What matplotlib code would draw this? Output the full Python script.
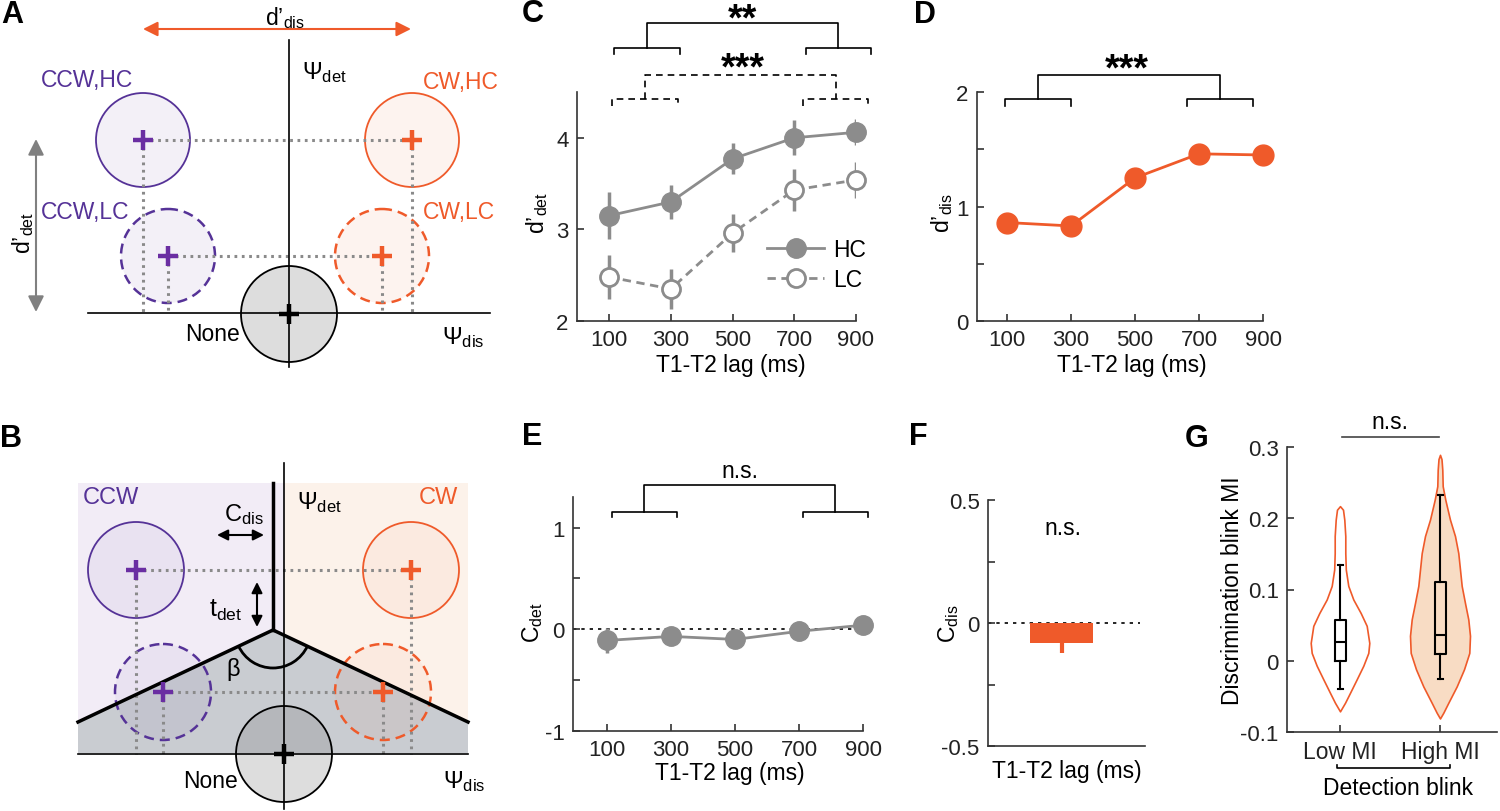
import numpy as np
import matplotlib
matplotlib.use("Agg")
import matplotlib.pyplot as plt
from matplotlib.patches import Circle, Arc, Polygon, Rectangle

plt.rcParams['font.family'] = ['Liberation Sans', 'DejaVu Sans']
plt.rcParams['mathtext.fontset'] = 'custom'
plt.rcParams['mathtext.rm'] = 'Liberation Sans'
plt.rcParams['mathtext.it'] = 'Liberation Sans:italic'
plt.rcParams['mathtext.bf'] = 'Liberation Sans:bold'

# ---------------- data ----------------
lags = [100, 300, 500, 700, 900]
dprime_det_hc = [3.15, 3.30, 3.77, 4.00, 4.06]
dprime_det_hc_err = [0.26, 0.19, 0.17, 0.19, 0.14]
dprime_det_lc = [2.48, 2.35, 2.96, 3.43, 3.54]
dprime_det_lc_err = [0.24, 0.22, 0.21, 0.23, 0.20]

dprime_dis = [0.86, 0.83, 1.25, 1.46, 1.45]
dprime_dis_err = [0.03, 0.03, 0.05, 0.03, 0.02]

c_det = [-0.11, -0.07, -0.10, -0.02, 0.04]
c_det_err = [0.12, 0.04, 0.04, 0.04, 0.03]

c_dis = -0.08
c_dis_err = 0.04

mi_groups = ['Low MI', 'High MI']
# violin outlines: level and half width
low_mi_y = [-0.071, -0.059, -0.045, -0.026, -0.007, 0.011, 0.025, 0.049, 0.067,
            0.086, 0.105, 0.128, 0.151, 0.175, 0.198, 0.212, 0.217]
low_mi_w = [0.0, 0.05, 0.10, 0.167, 0.233, 0.283, 0.293, 0.267, 0.207,
            0.133, 0.083, 0.058, 0.053, 0.053, 0.043, 0.03, 0.0]
high_mi_y = [-0.081, -0.073, -0.059, -0.036, -0.012, 0.011, 0.035, 0.058, 0.081,
             0.105, 0.128, 0.151, 0.175, 0.198, 0.226, 0.245, 0.268, 0.283, 0.289]
high_mi_w = [0.0, 0.033, 0.083, 0.167, 0.24, 0.293, 0.30, 0.283, 0.25,
             0.217, 0.20, 0.183, 0.15, 0.10, 0.053, 0.027, 0.023, 0.015, 0.0]
low_mi_box = dict(whislo=-0.039, q1=0.0, med=0.027, q3=0.057, whishi=0.135, fliers=[])
high_mi_box = dict(whislo=-0.026, q1=0.010, med=0.036, q3=0.110, whishi=0.232, fliers=[])

PURPLE = '#553297'
PURPLE_X = '#6a2ea2'
ORANGE = '#ef5a2a'
GRAY = '#8c8c8c'
DOT = '#8a8a8a'
FS = 16.5

fig = plt.figure(figsize=(15, 8.12), dpi=100)

# full-figure canvas in pixel units for the schematics and panel letters
cv = fig.add_axes([0, 0, 1, 1])
cv.set_xlim(0, 1500)
cv.set_ylim(812, 0)
cv.axis('off')

for lab, x, y in [('A', 12, 15), ('B', 11, 439), ('C', 533, 14), ('D', 925, 15),
                  ('E', 532, 437), ('F', 918, 437), ('G', 1197, 439)]:
    cv.text(x, y, lab, fontsize=22, fontweight='bold', ha='center', va='center')

dotted = dict(color=DOT, lw=2.2, ls=(0, (0.9, 1.5)), zorder=2)


def circ(x, y, col, dashed, fa, r=47):
    c = Circle((x, y), r, facecolor=(col, fa), edgecolor=col,
               lw=1.8 if dashed else 1.3, ls=(0, (4, 2.4)) if dashed else '-', zorder=1)
    cv.add_patch(c)


def cross(x, y, col):
    cv.plot(x, y, marker='+', ms=15, mew=3.2, color=col, zorder=5)


def darrow(p0, p1, col, lw=1.5, ms=20):
    cv.annotate('', xy=p1, xytext=p0,
                arrowprops=dict(arrowstyle='<|-|>', color=col, lw=lw,
                                mutation_scale=ms, shrinkA=0, shrinkB=0))


# ---------------- panel A ----------------
a_pts = [(143, 141, PURPLE, False), (412, 141, ORANGE, False),
         (168, 257, PURPLE, True), (382, 257, ORANGE, True)]
for x, y, col, dsh in a_pts:
    circ(x, y, col, dsh, 0.07)
    cv.plot([x, x], [y, 314], **dotted)
cv.plot([143, 412], [141, 141], **dotted)
cv.plot([168, 382], [257, 257], **dotted)
circ(289, 315, '#7a7a7a', False, 0.25, r=48)
cv.patches[-1].set_edgecolor('k')
cv.plot([289, 289], [41, 368], color='k', lw=1.2, zorder=3)
cv.plot([88, 490], [314, 314], color='k', lw=1.2, zorder=3)
for x, y, col, dsh in a_pts:
    cross(x, y, PURPLE_X if col == PURPLE else ORANGE)
cross(289, 315, 'k')
darrow((143, 30), (411, 30), ORANGE, ms=22)
cv.text(285, 18, 'd’$_{\\mathrm{dis}}$', fontsize=FS, ha='center', va='center')
darrow((36, 140), (36, 313), '#808080', ms=24)
cv.text(23, 233, 'd’$_{\\mathrm{det}}$', fontsize=FS, ha='center', va='center', rotation=90)
cv.text(302, 73, 'Ψ$_{\\mathrm{det}}$', fontsize=17, ha='left', va='center')
cv.text(442, 338, 'Ψ$_{\\mathrm{dis}}$', fontsize=17, ha='left', va='center')
cv.text(41, 80, 'CCW,HC', fontsize=FS, color=PURPLE, ha='left', va='center')
cv.text(41, 212, 'CCW,LC', fontsize=FS, color=PURPLE, ha='left', va='center')
cv.text(423, 82, 'CW,HC', fontsize=FS, color=ORANGE, ha='left', va='center')
cv.text(423, 212, 'CW,LC', fontsize=FS, color=ORANGE, ha='left', va='center')
cv.text(240, 335, 'None', fontsize=FS, ha='right', va='center')

# ---------------- panel B ----------------
cv.add_patch(Rectangle((78, 484), 206, 270, facecolor='#f2ecf6', edgecolor='none', zorder=0))
cv.add_patch(Rectangle((284, 484), 184, 270, facecolor='#fcf2ea', edgecolor='none', zorder=0))
cv.add_patch(Polygon([(78, 723), (273, 631), (468, 723), (468, 754), (78, 754)],
                     facecolor='#c9ccd1', edgecolor='none', zorder=0.5))
b_pts = [(136, 571, PURPLE, False), (411, 571, ORANGE, False),
         (163, 693, PURPLE, True), (383, 693, ORANGE, True)]
for x, y, col, dsh in b_pts:
    circ(x, y, col, dsh, 0.05, r=48)
    cv.plot([x, x], [y, 755], **dotted)
cv.plot([136, 411], [571, 571], **dotted)
cv.plot([163, 383], [693, 693], **dotted)
circ(284, 755, '#7a7a7a', False, 0.25, r=48)
cv.patches[-1].set_edgecolor('k')
cv.plot([78, 273, 468], [723, 631, 723], color='k', lw=2.5, zorder=4, solid_joinstyle='miter')
cv.plot([273, 273], [631, 484], color='k', lw=2.5, zorder=4)
cv.plot([284, 284], [464, 810], color='k', lw=1.2, zorder=3)
cv.plot([78, 468], [755, 755], color='k', lw=1.2, zorder=3)
cv.add_patch(Arc((273, 631), 76, 76, theta1=25, theta2=155, color='k', lw=2, zorder=4))
for x, y, col, dsh in b_pts:
    cross(x, y, PURPLE_X if col == PURPLE else ORANGE)
cross(284, 755, 'k')
cv.text(233, 670, 'β', fontsize=17, ha='center', va='center')
cv.text(83, 498, 'CCW', fontsize=17, color=PURPLE, ha='left', va='center')
cv.text(458, 498, 'CW', fontsize=17, color=ORANGE, ha='right', va='center')
cv.text(224, 515, 'C$_{\\mathrm{dis}}$', fontsize=17, ha='left', va='center')
darrow((217, 536), (264, 536), 'k', ms=16)
cv.text(209, 610, 't$_{\\mathrm{det}}$', fontsize=18, ha='left', va='center')
darrow((257, 583), (257, 628), 'k', ms=16)
cv.text(297, 503, 'Ψ$_{\\mathrm{det}}$', fontsize=17, ha='left', va='center')
cv.text(443, 782, 'Ψ$_{\\mathrm{dis}}$', fontsize=17, ha='left', va='center')
cv.text(238, 782, 'None', fontsize=FS, ha='right', va='center')


# ---------------- data panels ----------------
def px_axes(left, top, right, bottom):
    ax = fig.add_axes([left / 1500, 1 - bottom / 812, (right - left) / 1500, (bottom - top) / 812])
    ax.set_facecolor('none')
    ax.spines[['top', 'right']].set_visible(False)
    for s in ['left', 'bottom']:
        ax.spines[s].set_color('#333333')
        ax.spines[s].set_linewidth(1.2)
    ax.tick_params(direction='in', length=5, width=1.2, labelsize=16, color='#333333',
                   labelcolor='#222222', pad=6)
    return ax


def bracket(ax, x0, x1, y, drop, ls='-'):
    ax.plot([x0, x0, x1, x1], [y - drop, y, y, y - drop], color='k', lw=1.2, ls=ls, clip_on=False)


def labels(ax, xl, xpos, yl, ypos):
    if xl:
        ax.set_xlabel(xl, fontsize=FS, va='center')
        ax.xaxis.set_label_coords(*xpos)
    ax.set_ylabel(yl, fontsize=FS, va='center')
    ax.yaxis.set_label_coords(*ypos)


# C
ax = px_axes(577, 93, 856, 322)
ax.errorbar(lags, dprime_det_hc, yerr=dprime_det_hc_err, fmt='none', ecolor=GRAY, elinewidth=2.5, zorder=2)
ax.errorbar(lags, dprime_det_lc, yerr=dprime_det_lc_err, fmt='none', ecolor=GRAY, elinewidth=2.5, zorder=2)
ax.plot(lags, dprime_det_hc, '-o', color=GRAY, lw=2, ms=14, label='HC', zorder=3, clip_on=False)
ax.plot(lags, dprime_det_lc, '--o', color=GRAY, lw=2, ms=13, mfc='white', mew=2, dashes=(3, 2),
        label='LC', zorder=3, clip_on=False)
ax.set_xlim(-4, 900)
ax.set_ylim(2, 4.5)
ax.set_xticks(lags)
ax.set_yticks([2, 3, 4])
labels(ax, 'T1-T2 lag (ms)', (0.55, -0.19), 'd’$_{\\mathrm{det}}$', (-0.143, 0.476))
ax.legend(loc='lower right', frameon=False, fontsize=FS, handlelength=2.5, borderaxespad=0,
          bbox_to_anchor=(1.07, 0.09), labelspacing=0.3, handletextpad=0.4)
bracket(ax, 116, 329, 4.98, 0.065)
bracket(ax, 739, 948, 4.98, 0.065)
ax.plot([222, 222, 843, 843], [4.98, 5.25, 5.25, 4.98], color='k', lw=1.2, clip_on=False)
ax.text(532, 5.18, '**', fontsize=27, fontweight='bold', ha='center', va='baseline')
bracket(ax, 110, 323, 4.42, 0.07, ls=(0, (4, 3)))
bracket(ax, 729, 939, 4.42, 0.07, ls=(0, (4, 3)))
ax.plot([216, 216, 834, 834], [4.42, 4.69, 4.69, 4.42], color='k', lw=1.2, ls=(0, (4, 3)), clip_on=False)
ax.text(532, 4.65, '***', fontsize=27, fontweight='bold', ha='center', va='baseline')

# D
ax = px_axes(977, 93, 1263, 322)
ax.errorbar(lags, dprime_dis, yerr=dprime_dis_err, fmt='-o', color=ORANGE, lw=2, ms=15,
            elinewidth=2.5, capsize=0, clip_on=False)
ax.set_xlim(6, 900)
ax.set_ylim(0, 2)
ax.set_xticks(lags)
ax.set_yticks([0, 0.5, 1, 1.5, 2], ['0', '', '1', '', '2'])
labels(ax, 'T1-T2 lag (ms)', (0.54, -0.19), 'd’$_{\\mathrm{dis}}$', (-0.122, 0.476))
bracket(ax, 94, 299, 1.94, 0.06)
bracket(ax, 661, 869, 1.94, 0.06)
ax.plot([196, 196, 765, 765], [1.94, 2.15, 2.15, 1.94], color='k', lw=1.2, clip_on=False)
ax.text(475, 2.11, '***', fontsize=27, fontweight='bold', ha='center', va='baseline')

# E
ax = px_axes(573, 498, 863, 732)
ax.plot([-6, 925], [0, 0], color='k', lw=1.2, ls=(0, (2, 3)), clip_on=False, zorder=1)
ax.errorbar(lags, c_det, yerr=c_det_err, fmt='-o', color=GRAY, lw=2, ms=14,
            elinewidth=2.5, capsize=0, clip_on=False, zorder=3)
ax.set_xlim(-6, 900)
ax.set_ylim(-1, 1.3)
ax.set_xticks(lags)
ax.set_yticks([-1, -0.5, 0, 0.5, 1], ['-1', '', '0', '', '1'])
labels(ax, 'T1-T2 lag (ms)', (0.54, -0.177), 'C$_{\\mathrm{det}}$', (-0.138, 0.466))
bracket(ax, 115, 320, 1.153, 0.05)
bracket(ax, 711, 916, 1.153, 0.05)
ax.plot([217, 217, 813, 813], [1.153, 1.42, 1.42, 1.153], color='k', lw=1.2, clip_on=False)
ax.text(515, 1.50, 'n.s.', fontsize=FS, ha='center', va='baseline')

# F
ax = px_axes(988, 501, 1145, 747)
ax.plot([0, 0.97], [0, 0], color='k', lw=1.2, ls=(0, (2, 3)), clip_on=False, zorder=1)
ax.bar([0.47], [c_dis], width=0.4, color=ORANGE, zorder=2)
ax.errorbar([0.47], [c_dis], yerr=[[c_dis_err], [0]], fmt='none', ecolor=ORANGE,
            elinewidth=3, capsize=0, zorder=2)
ax.set_xlim(0, 1)
ax.set_ylim(-0.5, 0.5)
ax.set_xticks([])
ax.set_yticks([-0.5, -0.25, 0, 0.25, 0.5], ['-0.5', '', '0', '', '0.5'])
labels(ax, 'T1-T2 lag (ms)', (0.5, -0.10), 'C$_{\\mathrm{dis}}$', (-0.25, 0.5))
ax.text(0.48, 0.362, 'n.s.', fontsize=FS, ha='center', va='baseline')

# G
ax = px_axes(1287, 448, 1497, 733)
lw_arr, hw_arr = np.array(low_mi_w), np.array(high_mi_w)
ax.fill_betweenx(low_mi_y, 1 - lw_arr, 1 + lw_arr, facecolor='white', edgecolor=ORANGE, lw=1.2)
ax.fill_betweenx(high_mi_y, 2 - hw_arr, 2 + hw_arr, facecolor='#f8dcc4', edgecolor=ORANGE, lw=1.2)
kw = dict(color='k', lw=1.5)
ax.bxp([low_mi_box, high_mi_box], positions=[1, 2], widths=0.11, showfliers=False,
       boxprops=kw, medianprops=kw, whiskerprops=kw, capprops=kw, capwidths=0.05)
ax.set_xlim(0.47, 2.57)
ax.set_ylim(-0.1, 0.3)
ax.set_xticks([1, 2], mi_groups)
ax.tick_params(axis='x', labelsize=FS)
ax.set_yticks([-0.1, 0, 0.1, 0.2, 0.3], ['-0.1', '0', '0.1', '0.2', '0.3'])
labels(ax, None, None, 'Discrimination blink MI', (-0.26, 0.5))
ax.plot([1.02, 1.99], [0.314, 0.314], color='#444444', lw=1.2, clip_on=False)
ax.text(1.5, 0.326, 'n.s.', fontsize=FS, ha='center', va='baseline')
ax.plot([0.97, 0.97, 2.1, 2.1], [-0.147, -0.151, -0.151, -0.147], color='k', lw=1.2, clip_on=False)
ax.text(1.58, -0.178, 'Detection blink', fontsize=FS, ha='center', va='center')

fig.savefig('out.png', dpi=100)
